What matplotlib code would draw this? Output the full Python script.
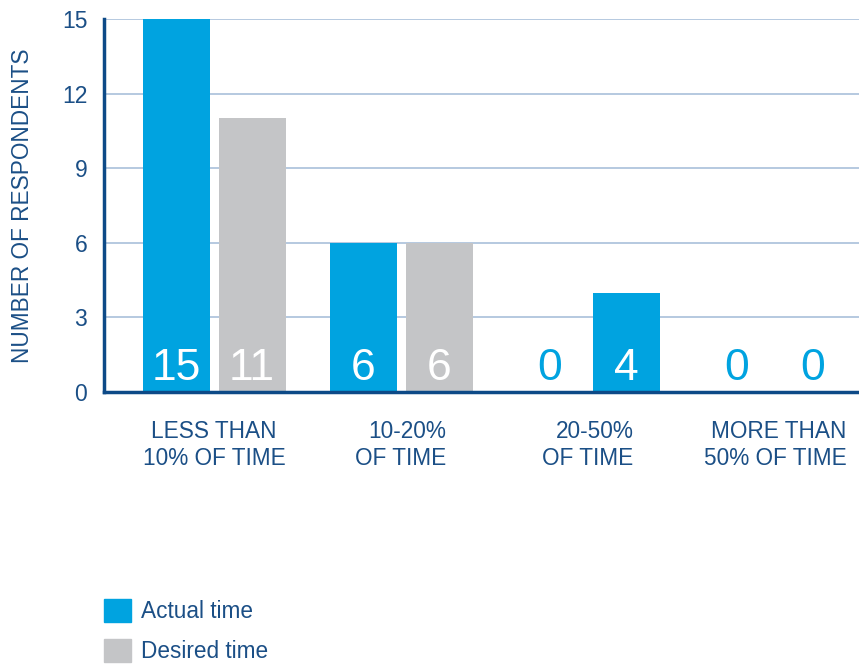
import matplotlib
matplotlib.use("Agg")
import matplotlib.pyplot as plt
import matplotlib.patches as mpatches
import numpy as np

categories = ["LESS THAN\n10% OF TIME", "10-20%\nOF TIME", "20-50%\nOF TIME", "MORE THAN\n50% OF TIME"]
actual = [15, 6, 0, 0]
desired = [11, 6, 4, 0]
yticks = [0, 3, 6, 9, 12, 15]
series_names = ["Actual time", "Desired time"]

BLUE = "#00a3e0"
GRAY = "#c4c5c7"
TEXT = "#1b4f86"
SPINE = "#0d4a87"
GRID = "#a9c0da"

plt.rcParams["font.family"] = ["Liberation Sans", "DejaVu Sans"]

fig = plt.figure(figsize=(8.59, 6.66), dpi=100)
ax = fig.add_axes([104/859, 1-392/666, 1-104/859, (392-19)/666])

x = np.arange(len(categories))
w = 67/187
off = 76/2/187
desired_colors = [GRAY, GRAY, BLUE, GRAY]

b1 = ax.bar(x - off, actual, w, color=BLUE, zorder=3)
b2 = ax.bar(x + off, desired, w, color=desired_colors, zorder=3)

for bars, vals in ((b1, actual), (b2, desired)):
    for rect, v in zip(bars, vals):
        cx = rect.get_x() + rect.get_width()/2
        col = "white" if v > 0 else BLUE
        ax.text(cx, 0.48, str(v), ha="center", va="baseline", color=col,
                fontsize=32, zorder=4)

ax.set_xlim(-110/187, (859-214)/187)
ax.set_ylim(0, 15)
ax.set_yticks(yticks)
ax.set_yticklabels([str(t) for t in yticks], fontsize=16.5, color=TEXT)
ax.tick_params(axis="y", length=0, pad=12)
ax.tick_params(axis="x", length=0, pad=20)
ax.set_xticks(x)
ax.set_xticklabels(categories, fontsize=16.3, color=TEXT, linespacing=1.25)
for i, lab in enumerate(ax.get_xticklabels()):
    if i > 0:
        lab.set_multialignment("right")
ax.set_ylabel("NUMBER OF RESPONDENTS", fontsize=16.3, color=TEXT, labelpad=20)

ax.grid(axis="y", color=GRID, linewidth=1.2, zorder=0)
for s in ("top", "right"):
    ax.spines[s].set_visible(False)
ax.spines["left"].set_color(SPINE)
ax.spines["bottom"].set_color(SPINE)
ax.spines["left"].set_linewidth(2.5)
ax.spines["bottom"].set_linewidth(2.5)
ax.spines["bottom"].set_zorder(5)

handles = [mpatches.Patch(color=BLUE, label=series_names[0]),
           mpatches.Patch(color=GRAY, label=series_names[1])]
leg = fig.legend(handles=handles, loc="upper left", bbox_to_anchor=(104/859, 1-599/666),
                 frameon=False, fontsize=16.3, handlelength=1.2, handleheight=1.2,
                 handletextpad=0.45, labelspacing=0.7, borderpad=0, borderaxespad=0)
for t in leg.get_texts():
    t.set_color(TEXT)

fig.savefig("out.png", dpi=100)
